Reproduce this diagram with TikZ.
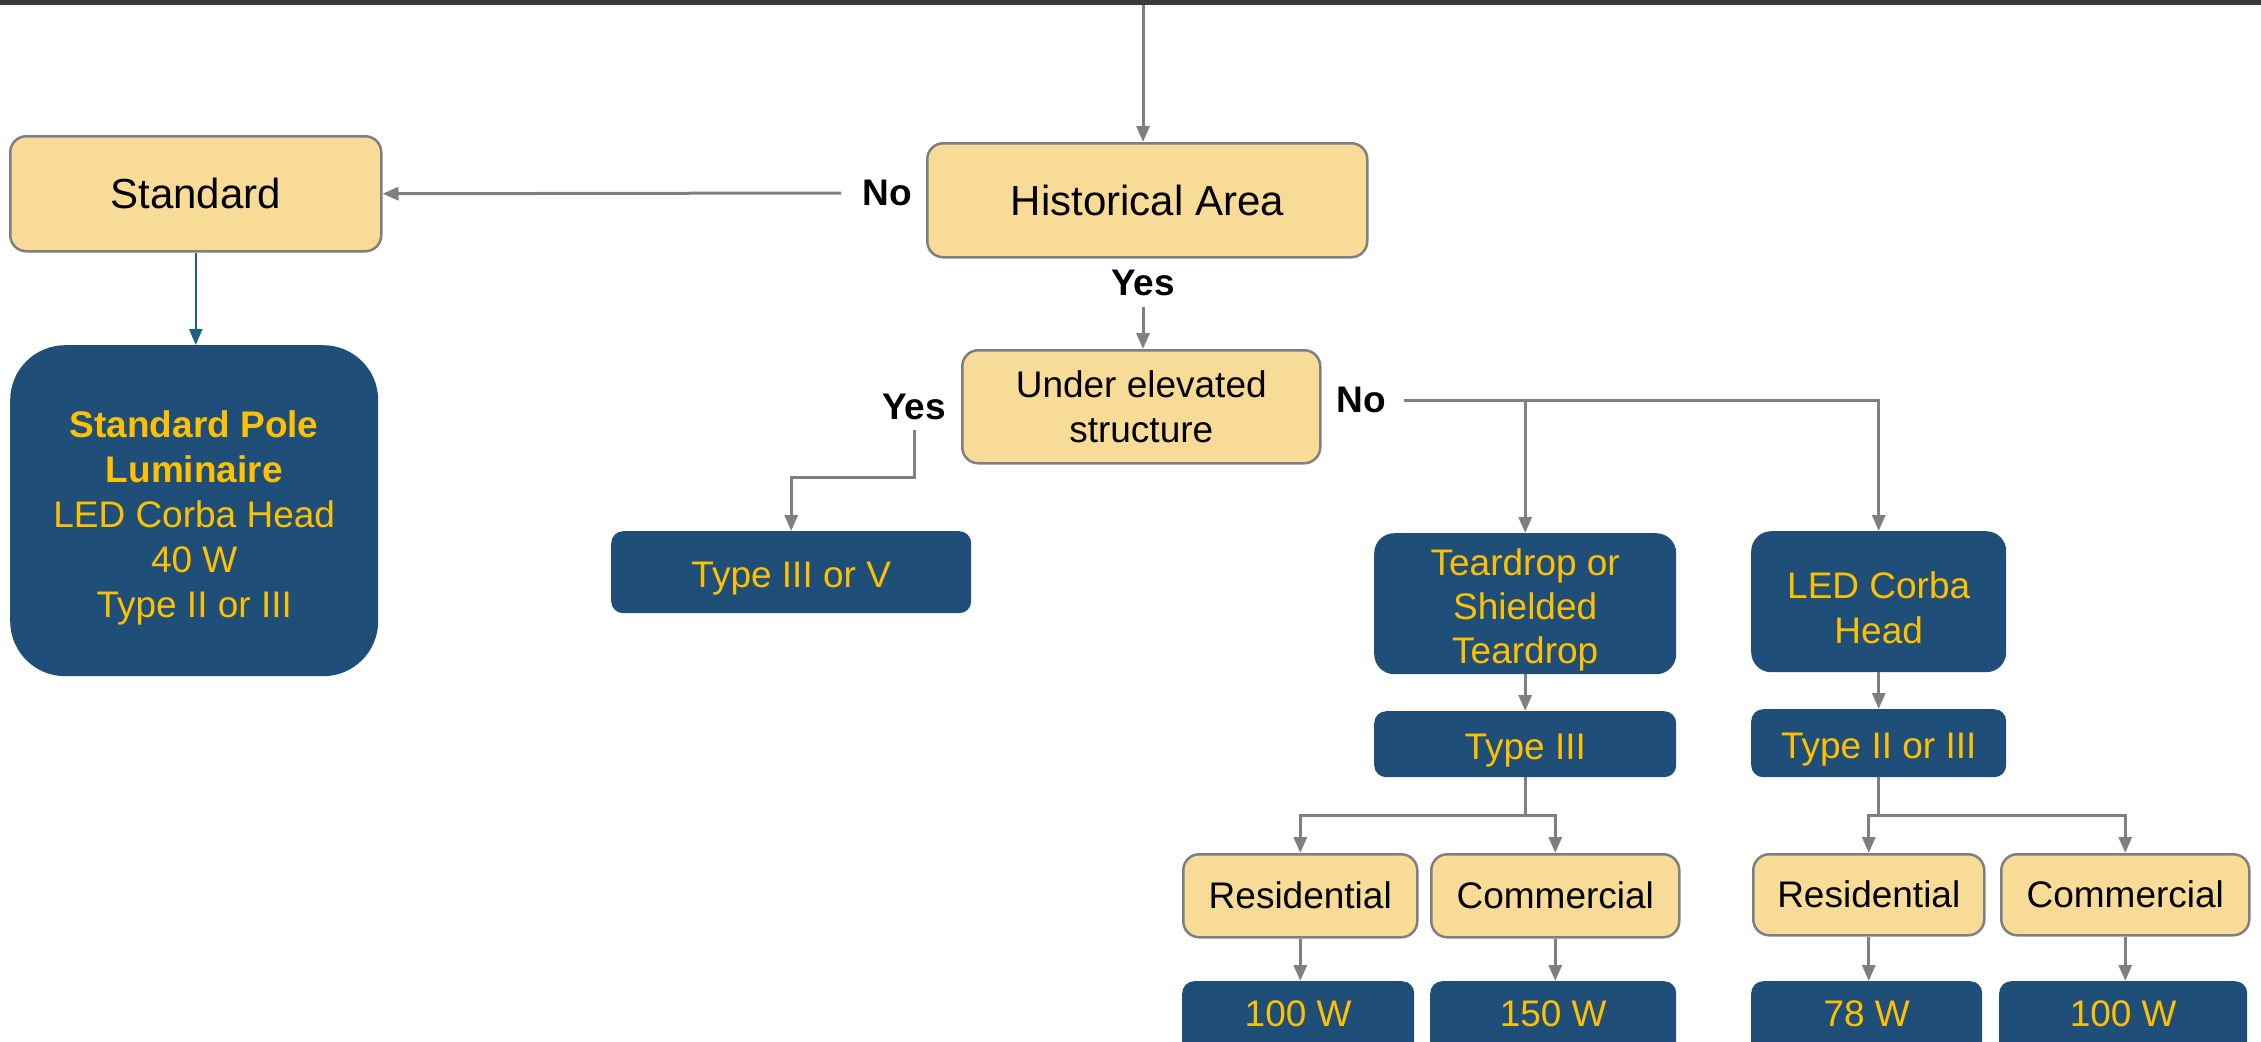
\documentclass[tikz,border=0pt]{standalone}
\usepackage{fontspec}
\setmainfont{Liberation Sans}
\usetikzlibrary{arrows.meta}
\definecolor{boxyellow}{HTML}{F7DB97}
\definecolor{boxblue}{HTML}{1F4E78}
\definecolor{txtgold}{HTML}{FFC000}
\definecolor{linegray}{HTML}{7F7F7F}
\definecolor{linkteal}{HTML}{1B6286}
\definecolor{bargray}{HTML}{3A3A3A}

\begin{document}
\begin{tikzpicture}[x=1pt,y=-1pt,
  ybox/.style={draw=linegray, line width=2.5pt, fill=boxyellow, rounded corners=16pt,
    anchor=north west, align=center, inner sep=0pt, text=black},
  bbox/.style={fill=boxblue, rounded corners=12pt, anchor=north west, align=center,
    inner sep=0pt, text=txtgold},
  wbox/.style={bbox, minimum height=90pt, text height=0pt, text depth=0pt},
  big/.style={font=\fontsize{42}{50}\selectfont},
  mid/.style={font=\fontsize{37}{45}\selectfont},
  lbl/.style={font=\fontsize{37}{45}\selectfont\bfseries, inner sep=0pt},
  conn/.style={draw=linegray, line width=3pt, -{Triangle[width=13pt,length=16pt]}},
]
\useasboundingbox (0,0) rectangle (2261,1041);
\clip (0,0) rectangle (2261,1041);

% header bar
\fill[bargray] (0,0) rectangle (2261,5);
\coordinate (topin) at (1143,5);

% decision boxes
\node[ybox, big, minimum width=440pt, minimum height=114pt] (hist) at (926,142) {Historical Area};
\node[ybox, big, minimum width=371pt, minimum height=115pt] (std) at (9,135) {Standard};
\node[ybox, mid, minimum width=358pt, minimum height=113pt] (under) at (961,349)
  {Under elevated\\structure};

% luminaire boxes (text height padded so the lines sit a little low)
\node[bbox, mid, rounded corners=55pt, minimum width=368pt, minimum height=331pt,
  text height=221pt] (pole) at (10,345)
  {\textbf{Standard Pole}\\\textbf{Luminaire}\\LED Corba Head\\40 W\\Type II or III};
\node[bbox, mid, minimum width=360pt, minimum height=82pt, text height=39pt] (t35) at (611,531)
  {Type III or V};
\node[bbox, mid, rounded corners=20pt, minimum width=302pt, minimum height=141pt,
  font=\fontsize{37}{44}\selectfont, text height=127pt] (tear) at (1374,533)
  {Teardrop or\\Shielded\\Teardrop};
\node[bbox, mid, rounded corners=20pt, minimum width=255pt, minimum height=141pt,
  text height=84pt] (led) at (1751,531) {LED Corba\\Head};
\node[bbox, mid, minimum width=302pt, minimum height=66pt, text height=39pt] (t3) at (1374,711)
  {Type III};
\node[bbox, mid, minimum width=255pt, minimum height=68pt, text height=39pt] (t23) at (1751,709)
  {Type II or III};

% area type boxes
\node[ybox, mid, minimum width=234pt, minimum height=83pt] (res1) at (1182,853) {Residential};
\node[ybox, mid, minimum width=248pt, minimum height=83pt] (com1) at (1430,853) {Commercial};
\node[ybox, mid, minimum width=231pt, minimum height=81pt] (res2) at (1752,853) {Residential};
\node[ybox, mid, minimum width=248pt, minimum height=81pt] (com2) at (2000,853) {Commercial};

% wattage boxes
\node[wbox, mid, minimum width=232pt] (w1) at (1182,981) {100 W};
\node[wbox, mid, minimum width=246pt] (w2) at (1430,981) {150 W};
\node[wbox, mid, minimum width=231pt] (w3) at (1751,981) {78 W};
\node[wbox, mid, minimum width=248pt] (w4) at (1999,981) {100 W};

% answer labels
\node[lbl] (no1) at (887,193) {No};
\node[lbl] (yes1) at (1143,283) {Yes};
\node[lbl] (yes2) at (914,407) {Yes};
\node[lbl] (no2) at (1361,400) {No};

% connectors
\draw[conn] (topin) -- (topin |- hist.north);
\draw[conn] ([xshift=-21pt]no1.west) -- (std.east);
\draw[conn, draw=linkteal, line width=2.5pt] (std.south) -- (std.south |- pole.north);
\draw[conn] ([yshift=-11pt]yes1.south) -- (yes1.south |- under.north);
\draw[conn] ([yshift=-10pt]yes2.south) -- ++(0,47) -| (t35.north);
\draw[conn] ([xshift=18pt]no2.east) -| (led.north);
\draw[conn] (tear.north |- no2.east) -- (tear.north);
\draw[conn] (tear.south) -- (t3.north);
\draw[conn] (led.south) -- (t23.north);
\draw[conn] (t3.south) -- ++(0,38) -| (res1.north);
\draw[conn] (t3.south) ++(0,38) -| (com1.north);
\draw[conn] (t23.south) -- ++(0,38) -| (res2.north);
\draw[conn] (t23.south) ++(0,38) -| (com2.north);
\draw[conn] (res1.south) -- (res1.south |- w1.north);
\draw[conn] (com1.south) -- (com1.south |- w2.north);
\draw[conn] (res2.south) -- (res2.south |- w3.north);
\draw[conn] (com2.south) -- (com2.south |- w4.north);
\end{tikzpicture}
\end{document}
